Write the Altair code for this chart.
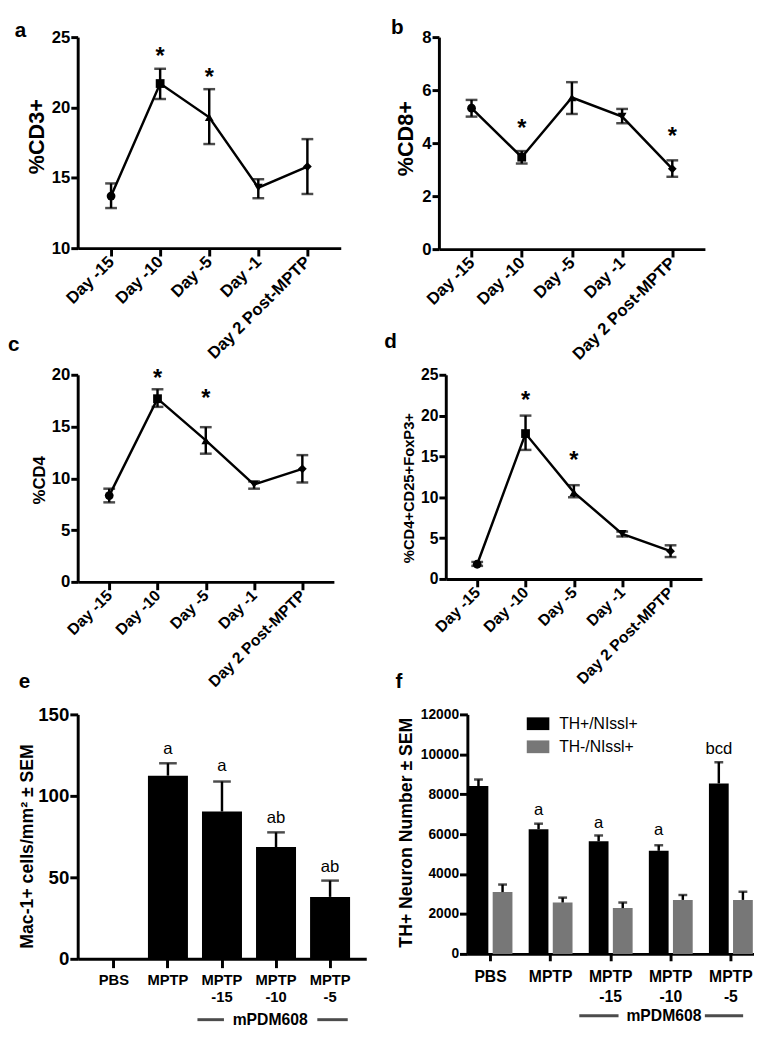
import altair as alt
import pandas as pd

FONT = "Liberation Sans"

# ---------------- data: panels a-d ----------------
days = ["Day -15", "Day -10", "Day -5", "Day -1", "Day 2 Post-MPTP"]
day_shapes = ["circle", "square", "triangle-up", "triangle-down", "diamond"]

cd3_mean = [13.7, 21.7, 19.3, 14.3, 15.8]
cd3_low = [12.85, 20.6, 17.4, 13.55, 13.85]
cd3_high = [14.6, 22.75, 21.3, 14.9, 17.75]
cd3_star_days = ["Day -10", "Day -5"]
cd3_star_y = [24.0, 22.5]

cd8_mean = [5.32, 3.47, 5.72, 5.0, 3.03]
cd8_low = [5.0, 3.23, 5.1, 4.75, 2.73]
cd8_high = [5.63, 3.7, 6.3, 5.29, 3.35]
cd8_star_days = ["Day -10", "Day 2 Post-MPTP"]
cd8_star_y = [4.74, 4.43]

cd4_mean = [8.33, 17.69, 13.67, 9.4, 10.92]
cd4_low = [7.68, 16.9, 12.38, 9.0, 9.6]
cd4_high = [9.0, 18.6, 14.94, 9.7, 12.24]
cd4_star_days = ["Day -10", "Day -5"]
cd4_star_y = [20.15, 18.17]

treg_mean = [1.8, 17.8, 10.6, 5.52, 3.4]
treg_low = [1.6, 15.8, 10.0, 5.2, 2.68]
treg_high = [2.08, 20.0, 11.48, 5.8, 4.12]
treg_star_days = ["Day -10", "Day -5"]
treg_star_y = [22.5, 15.2]

# ---------------- data: panels e-f ----------------
groups = ["PBS", "MPTP", "MPTP -15", "MPTP -10", "MPTP -5"]
mac_mean = [None, 112.4, 90.4, 68.6, 38.0]
mac_top = [None, 120.0, 108.8, 77.6, 48.0]
mac_sig_groups = ["MPTP", "MPTP -15", "MPTP -10", "MPTP -5"]
mac_sig = ["a", "a", "ab", "ab"]
mac_sig_y = [129, 118.4, 86.4, 56]

series = ["TH+/NIssl+", "TH-/NIssl+"]
series_colors = ["#000000", "#777777"]
th_pos_mean = [8410, 6246, 5639, 5164, 8541]
th_pos_top = [8738, 6525, 5934, 5443, 9607]
th_neg_mean = [3098, 2574, 2295, 2705, 2705]
th_neg_top = [3475, 2820, 2574, 2951, 3115]
th_sig_groups = ["MPTP", "MPTP -15", "MPTP -10", "MPTP -5"]
th_sig = ["a", "a", "a", "bcd"]
th_sig_y = [7230, 6541, 6213, 10279]

note_text = "mPDM608"

IND = dict(x="independent", y="independent", color="independent", shape="independent")


def letter_layer(letter, lx, ly):
    return alt.Chart(pd.DataFrame({"t": [letter]})).mark_text(
        align="left", baseline="alphabetic", fontSize=21, fontWeight="bold", color="black"
    ).encode(text="t:N", x=alt.value(lx), y=alt.value(ly))


def line_panel(letter, mean, low, high, star_days, star_y, ydom, yvals, ytitle,
               W, H, pad, lx, ly, tx, ty, tfs, lfs, xfs):
    df = pd.DataFrame({"day": days, "mean": mean, "low": low, "high": high})
    sdf = pd.DataFrame({"day": star_days, "sy": star_y})
    xscale = alt.Scale(type="point", domain=days, padding=pad)
    xaxis = alt.Axis(title=None, labelAngle=315, labelAlign="right", labelBaseline="middle",
                     labelFontSize=xfs, tickSize=8, labelPadding=3)
    yscale = alt.Scale(domain=ydom, nice=False, zero=False)
    yaxis = alt.Axis(title=ytitle, values=yvals, tickSize=7, labelPadding=1, labelFontSize=lfs,
                     titleX=tx, titleY=ty, titleFontSize=tfs, titleAngle=270,
                     titleBaseline="bottom", titleAlign="center")
    X = alt.X("day:N", scale=xscale, axis=xaxis)

    def Y(f):
        return alt.Y(f"{f}:Q", scale=yscale, axis=yaxis)

    base = alt.Chart(df)
    err = base.mark_rule(color="black", strokeWidth=2.5).encode(x=X, y=Y("low"), y2="high:Q")
    cap_lo = base.mark_tick(color="black", size=12, thickness=2.5, orient="horizontal").encode(x=X, y=Y("low"))
    cap_hi = base.mark_tick(color="black", size=12, thickness=2.5, orient="horizontal").encode(x=X, y=Y("high"))
    line = base.mark_line(color="black", strokeWidth=2.5).encode(x=X, y=Y("mean"))
    pts = base.mark_point(filled=True, opacity=1, size=80, color="black").encode(
        x=X, y=Y("mean"),
        shape=alt.Shape("day:N", scale=alt.Scale(domain=days, range=day_shapes), legend=None))
    stars = alt.Chart(sdf).mark_text(text="*", fontSize=24, fontWeight="bold", dy=6, color="black").encode(
        x=X, y=Y("sy"))
    return alt.layer(err, cap_lo, cap_hi, line, pts, stars, letter_layer(letter, lx, ly)).properties(
        width=W, height=H)


pa = line_panel("a", cd3_mean, cd3_low, cd3_high, cd3_star_days, cd3_star_y, [10, 25], [10, 15, 20, 25],
                "%CD3+", 268, 215, 0.68, -64, 0, -30, 101, 22, 17, 17)
pb = line_panel("b", cd8_mean, cd8_low, cd8_high, cd8_star_days, cd8_star_y, [0, 8], [0, 2, 4, 6, 8],
                "%CD8+", 271, 216, 0.65, -48.7, -3, -22, 103, 22, 17, 17)
pc = line_panel("c", cd4_mean, cd4_low, cd4_high, cd4_star_days, cd4_star_y, [0, 20], [0, 5, 10, 15, 20],
                "%CD4", 261, 211, 0.653, -71, -24, -30, 107, 17, 17, 16)
pd_ = line_panel("d", treg_mean, treg_low, treg_high, treg_star_days, treg_star_y, [0, 25],
                 [0, 5, 10, 15, 20, 25], "%CD4+CD25+FoxP3+", 261, 208, 0.65, -62.7, -27, -30, 115, 15, 16, 16)

# ---------------- panel e ----------------
W_E, H_E = 294, 249
edf = pd.DataFrame({"group": groups, "mean": mac_mean, "top": mac_top})
esig = pd.DataFrame({"group": mac_sig_groups, "txt": mac_sig, "sy": mac_sig_y})
ex_scale = alt.Scale(domain=groups, paddingInner=0.26, paddingOuter=0.3)
ex_axis = alt.Axis(title=None, labelAngle=0, labelExpr="split(datum.label, ' ')", labelFontSize=15,
                   labelLineHeight=18, tickSize=9, labelPadding=5, labelBaseline="top")
ey_scale = alt.Scale(domain=[0, 150], nice=False)
ey_axis = alt.Axis(title="Mac-1+ cells/mm² ± SEM", values=[0, 50, 100, 150], tickSize=8, labelPadding=1,
                   labelFontSize=19, titleX=-42, titleY=134, titleFontSize=18, titleAngle=270,
                   titleBaseline="bottom", titleAlign="center")
EX = alt.X("group:N", scale=ex_scale, axis=ex_axis)


def EY(f):
    return alt.Y(f"{f}:Q", scale=ey_scale, axis=ey_axis)


NOTE_E = H_E + 62
ebase = alt.Chart(edf)
e_bars = ebase.mark_bar(color="black").encode(x=EX, y=EY("mean"))
e_err = ebase.mark_rule(color="black", strokeWidth=2.5).encode(x=EX, y=EY("mean"), y2="top:Q")
e_cap = ebase.mark_tick(color="black", size=18, thickness=2.5, orient="horizontal").encode(x=EX, y=EY("top"))
e_sig = alt.Chart(esig).mark_text(fontSize=17, baseline="middle", color="black").encode(
    x=EX, y=EY("sy"), text="txt:N")
e_note = alt.Chart(pd.DataFrame({"group": ["MPTP -10"], "t": [note_text]})).mark_text(
    fontSize=16, fontWeight="bold", baseline="middle", dx=-6, color="black").encode(
    x=EX, y=alt.value(NOTE_E), text="t:N")
e_lineL = alt.Chart(pd.DataFrame({"group": ["MPTP -15"]})).mark_tick(
    orient="horizontal", size=27, thickness=3, color="black", xOffset=-11.5).encode(
    x=EX, y=alt.value(NOTE_E))
e_lineR = alt.Chart(pd.DataFrame({"group": ["MPTP -5"]})).mark_tick(
    orient="horizontal", size=31, thickness=3, color="black", xOffset=2.5).encode(
    x=EX, y=alt.value(NOTE_E))
pe = alt.layer(e_bars, e_err, e_cap, e_sig, e_note, e_lineL, e_lineR,
               letter_layer("e", -60, -27)).properties(width=W_E, height=H_E)

# ---------------- panel f ----------------
W_F, H_F = 292, 244
fdf = pd.DataFrame({
    "group": groups * 2,
    "series": [series[0]] * 5 + [series[1]] * 5,
    "mean": th_pos_mean + th_neg_mean,
    "top": th_pos_top + th_neg_top,
})
fsig = pd.DataFrame({"group": th_sig_groups, "series": [series[0]] * 4, "txt": th_sig, "sy": th_sig_y})
fx_scale = alt.Scale(domain=groups, paddingInner=0.27, paddingOuter=0.02)
fx_axis = alt.Axis(title=None, labelAngle=0, labelExpr="split(datum.label, ' ')", labelFontSize=16,
                   labelLineHeight=20, tickSize=7, labelPadding=8, labelBaseline="top")
fy_scale = alt.Scale(domain=[0, 12000], nice=False)
fy_axis = alt.Axis(title="TH+ Neuron Number ± SEM", values=[0, 2000, 4000, 6000, 8000, 10000, 12000],
                   format="d", tickSize=8, labelPadding=1, labelFontSize=14, titleX=-53, titleY=120,
                   titleFontSize=18, titleAngle=270, titleBaseline="bottom", titleAlign="center")
FX = alt.X("group:N", scale=fx_scale, axis=fx_axis)
FXO = alt.XOffset("series:N", scale=alt.Scale(domain=series, paddingInner=0.18, paddingOuter=0))


def FY(f):
    return alt.Y(f"{f}:Q", scale=fy_scale, axis=fy_axis)


NOTE_F = H_F + 63
rect_path = "M-1,-0.565L1,-0.565L1,0.565L-1,0.565Z"
fbase = alt.Chart(fdf)
f_bars = fbase.mark_bar().encode(
    x=FX, xOffset=FXO, y=FY("mean"),
    color=alt.Color("series:N", scale=alt.Scale(domain=series, range=series_colors),
                    legend=alt.Legend(title=None, orient="none", legendX=60.5, legendY=-2,
                                      symbolType=rect_path, symbolSize=529, symbolStrokeWidth=0,
                                      symbolOpacity=1, labelFontSize=16, labelFont=FONT,
                                      labelFontWeight="normal", labelOffset=10, rowPadding=3.5,
                                      padding=0, labelColor="black")))
f_err = fbase.mark_rule(color="black", strokeWidth=2.5).encode(x=FX, xOffset=FXO, y=FY("mean"), y2="top:Q")
f_cap = fbase.mark_tick(color="black", size=9, thickness=2.5, orient="horizontal").encode(
    x=FX, xOffset=FXO, y=FY("top"))
f_sig = alt.Chart(fsig).mark_text(fontSize=17, baseline="middle", color="black").encode(
    x=FX, xOffset=FXO, y=FY("sy"), text="txt:N")
f_note = alt.Chart(pd.DataFrame({"group": ["MPTP -10"], "t": [note_text]})).mark_text(
    fontSize=16, fontWeight="bold", baseline="middle", dx=-7, color="black").encode(
    x=FX, y=alt.value(NOTE_F), text="t:N")
f_lineL = alt.Chart(pd.DataFrame({"group": ["MPTP -15"]})).mark_tick(
    orient="horizontal", size=40, thickness=3, color="black", xOffset=-12).encode(
    x=FX, y=alt.value(NOTE_F))
f_lineR = alt.Chart(pd.DataFrame({"group": ["MPTP -5"]})).mark_tick(
    orient="horizontal", size=39, thickness=3, color="black", xOffset=-7).encode(
    x=FX, y=alt.value(NOTE_F))
pf = alt.layer(f_bars, f_err, f_cap, f_sig, f_note, f_lineL, f_lineR,
               letter_layer("f", -73.2, -27)).properties(width=W_F, height=H_F)

# ---------------- assemble ----------------
row1 = alt.hconcat(pa, pb, spacing=51).resolve_scale(**IND).resolve_legend(color="independent")
row2 = alt.hconcat(pc, pd_, spacing=51).resolve_scale(**IND).resolve_legend(color="independent")
row3 = alt.hconcat(pe, pf, spacing=29).resolve_scale(**IND).resolve_legend(color="independent")
lower = alt.vconcat(row2, row3, spacing=-19).resolve_scale(**IND).resolve_legend(color="independent")
chart = alt.vconcat(row1, lower, spacing=-32).resolve_scale(**IND).resolve_legend(
    color="independent"
).configure(font=FONT, padding={"left": 0, "top": 0, "right": 0, "bottom": 0}).configure_view(
    stroke=None
).configure_axis(
    domainColor="black", domainWidth=3, tickColor="black", tickWidth=3, labelColor="black",
    titleColor="black", grid=False, labelFont=FONT, titleFont=FONT, labelFontWeight="bold",
    titleFontWeight="bold"
).configure_text(font=FONT).properties(
    padding={"left": 0, "top": 0, "right": 0, "bottom": 0}
)

chart.save("out.html", embed_options={"renderer": "svg", "actions": False})
